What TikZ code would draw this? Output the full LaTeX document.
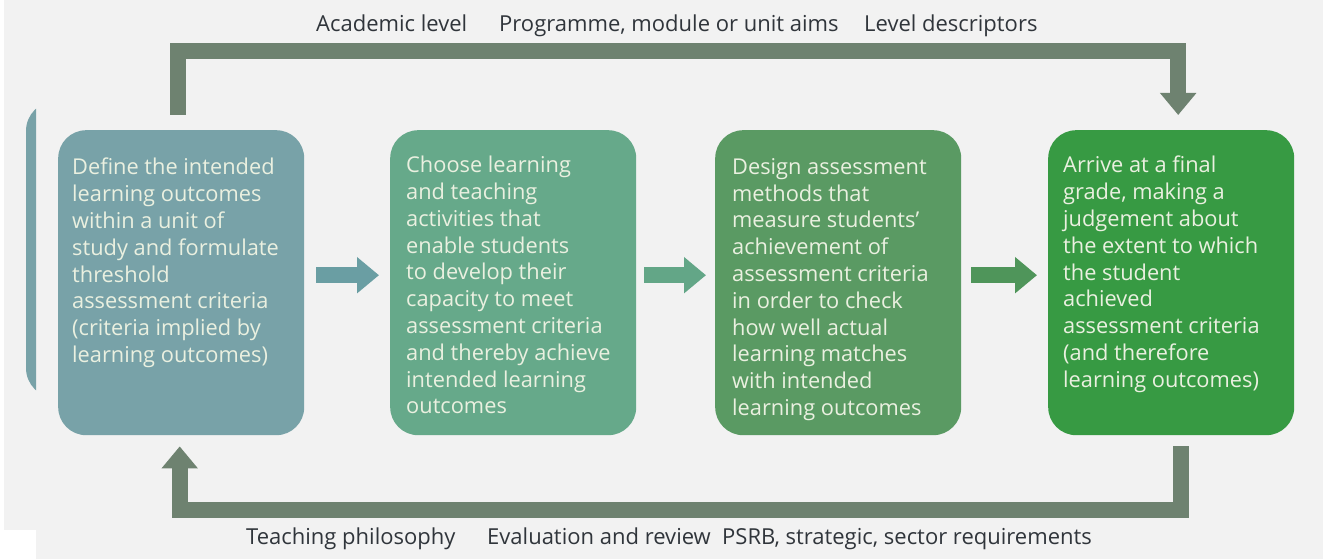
\documentclass[tikz,border=0pt]{standalone}
\usepackage{fontspec}
\setmainfont{Open Sans}
\usetikzlibrary{arrows.meta}
\definecolor{bg}{HTML}{F2F2F2}
\definecolor{cA}{HTML}{78A2A8}
\definecolor{cB}{HTML}{66A98A}
\definecolor{cC}{HTML}{5A9A63}
\definecolor{cD}{HTML}{379A43}
\definecolor{conn}{HTML}{6E8270}
\definecolor{aA}{HTML}{6A9EA3}
\definecolor{aB}{HTML}{63A687}
\definecolor{aC}{HTML}{4F955A}
\definecolor{txtc}{HTML}{EAF0E0}
\definecolor{lab}{HTML}{30353B}
\begin{document}
\begin{tikzpicture}[x=1pt,y=-1pt,
  stepbox/.style={rounded corners=28pt, minimum width=246pt, minimum height=305pt, inner sep=0pt, anchor=north west},
  boxtext/.style={anchor=north west, inner sep=0pt, align=left, text=txtc, font=\fontsize{21.8}{26.8}\selectfont},
  loop/.style={draw=conn, line width=16pt, line join=miter, -{Triangle[length=22pt,width=35pt]}},
  fat/.style={line width=16pt, -{Triangle[length=22pt,width=35pt]}},
  lbl/.style={anchor=base west, inner sep=0pt, text=lab, font=\fontsize{22}{26}\selectfont}]
\useasboundingbox (0,0) rectangle (1323,559);
\fill[white] (0,0) rectangle (1323,559);
\fill[bg] (4,0) rectangle (1323,559);
\fill[white] (0,530) rectangle (36,559);
\begin{scope}
  \clip (0,0) rectangle (36,559);
  \fill[cA, rounded corners=30pt] (26,101) rectangle (140,398);
\end{scope}

\node[stepbox, fill=cA] (box1) at (58,130) {};
\node[stepbox, fill=cB] (box2) at (390,130) {};
\node[stepbox, fill=cC] (box3) at (715,130) {};
\node[stepbox, fill=cD] (box4) at (1048,130) {};

\node[boxtext] (t1) at ([xshift=14pt,yshift=-28pt]box1.north west) {Define the intended\\learning outcomes\\within a unit of\\study and formulate\\threshold\\assessment criteria\\(criteria implied by\\learning outcomes)};
\node[boxtext] (t2) at ([xshift=16pt,yshift=-26pt]box2.north west) {Choose learning\\and teaching\\activities that\\enable students\\to develop their\\capacity to meet\\assessment criteria\\and thereby achieve\\intended learning\\outcomes};
\node[boxtext] (t3) at ([xshift=17pt,yshift=-28pt]box3.north west) {Design assessment\\methods that\\measure students'\\achievement of\\assessment criteria\\in order to check\\how well actual\\learning matches\\with intended\\learning outcomes};
\node[boxtext] (t4) at ([xshift=15pt,yshift=-26pt]box4.north west) {Arrive at a final\\grade, making a\\judgement about\\the extent to which\\the student\\achieved\\assessment criteria\\(and therefore\\learning outcomes)};

\draw[fat, draw=aA, fill=aA] ([xshift=12pt,yshift=7.5pt]box1.east) -- ([xshift=-11pt,yshift=7.5pt]box2.west);
\draw[fat, draw=aB, fill=aB] ([xshift=8pt,yshift=7.5pt]box2.east) -- ([xshift=-9pt,yshift=7.5pt]box3.west);
\draw[fat, draw=aC, fill=aC] ([xshift=10pt,yshift=7.5pt]box3.east) -- ([xshift=-11pt,yshift=7.5pt]box4.west);

\draw[loop] ([xshift=-3.5pt,yshift=15pt]box1.north) -- ++(0,-64) -| ([xshift=7pt,yshift=15pt]box4.north);
\draw[loop] ([xshift=9.5pt,yshift=-11pt]box4.south) -- ++(0,63.5) -| ([xshift=-1.5pt,yshift=-11pt]box1.south);

\node[lbl] (l1) at (316,31.5) {Academic level};
\node[lbl] (l2) at (499,31.5) {Programme, module or unit aims};
\node[lbl] (l3) at (864,31.5) {Level descriptors};
\node[lbl] (l4) at (246,544) {Teaching philosophy};
\node[lbl] (l5) at (487,544) {Evaluation and review};
\node[lbl] (l6) at (722,544) {PSRB, strategic, sector requirements};
\end{tikzpicture}
\end{document}
